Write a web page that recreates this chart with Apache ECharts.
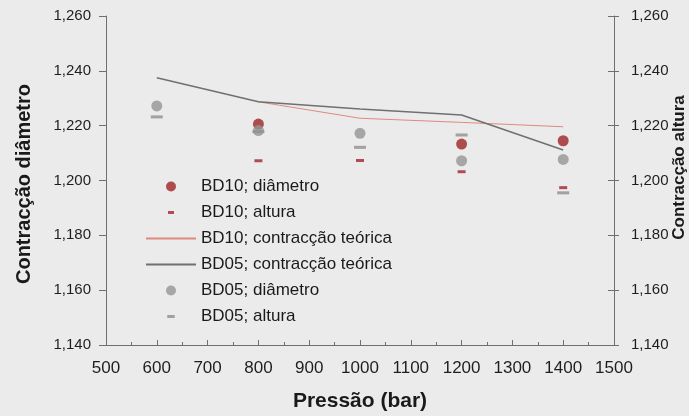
<!DOCTYPE html>
<html>
<head>
<meta charset="utf-8">
<script src="https://cdn.jsdelivr.net/npm/echarts@6/dist/echarts.min.js"></script>
<style>
  html, body { margin: 0; padding: 0; background: #ebebeb; }
  #chart { width: 689px; height: 416px; }
</style>
</head>
<body>
<div id="chart"></div>
<script>
// Pressão de compactação (bar) e contracção medida / teórica
const pressure = [600, 800, 1000, 1200, 1400];
const bd10Diametro = [null, 1.2206, null, 1.2133, 1.2145];
const bd10Altura   = [null, 1.2072, 1.2073, 1.2032, 1.1974];
const bd10Teorica  = [null, 1.2287, 1.2227, 1.2212, 1.2196];
const bd05Teorica  = [1.2375, 1.2287, 1.2261, 1.2239, 1.2111];
const bd05Diametro = [1.2272, 1.2182, 1.2172, 1.2072, 1.2077];
const bd05Altura   = [1.2232, 1.2178, 1.2121, 1.2166, 1.1955];

const xTicks = { min: 500, max: 1500, step: 100 };
const yTicks = { min: 1.14, max: 1.26, step: 0.02 };

const FONT = 'Liberation Sans, Arial, sans-serif';
const AXIS_COLOR = '#6f6f6f';

function pairs(values) {
  return pressure.map((p, i) => [p, values[i]]).filter(d => d[1] != null);
}
function fmt(v) {
  return v.toFixed(3).replace('.', ',');
}

// dash icons with transparent padding so the legend keeps them small
const redDashIcon = 'path://M0,0L0,0M2,3.5h6v3h-6zM10,10L10,10';
const grayDashIcon = 'path://M0,0L0,0M1.5,3.5h7.5v3h-7.5zM10.5,10L10.5,10';

const chart = echarts.init(document.getElementById('chart'));
chart.setOption({
  backgroundColor: '#ebebeb',
  animation: false,
  grid: { left: 106, right: 75, top: 16, bottom: 71, outerBoundsMode: 'none', containLabel: false },
  legend: {
    orient: 'vertical',
    left: 140,
    top: 173,
    itemWidth: 50,
    itemHeight: 10,
    itemGap: 9,
    textStyle: { fontFamily: FONT, fontSize: 17, color: '#1a1a1a' },
    data: [
      { name: 'BD10; diâmetro', icon: 'circle' },
      { name: 'BD10; altura', icon: redDashIcon },
      { name: 'BD10; contracção teórica' },
      { name: 'BD05; contracção teórica' },
      { name: 'BD05; diâmetro', icon: 'circle' },
      { name: 'BD05; altura', icon: grayDashIcon }
    ]
  },
  xAxis: {
    type: 'value',
    min: xTicks.min,
    max: xTicks.max,
    interval: xTicks.step,
    name: 'Pressão (bar)',
    nameLocation: 'middle',
    nameGap: 46,
    nameMoveOverlap: false,
    nameTextStyle: { fontFamily: FONT, fontSize: 21, fontWeight: 'bold', color: '#1a1a1a' },
    axisLine: { lineStyle: { color: AXIS_COLOR, width: 1 } },
    axisTick: { inside: true, length: 5, lineStyle: { color: AXIS_COLOR } },
    minorTick: { show: true, splitNumber: 2, length: 3, lineStyle: { color: AXIS_COLOR } },
    axisLabel: { fontFamily: FONT, fontSize: 17, color: '#1e1e1e', margin: 15, formatter: v => String(v) },
    splitLine: { show: false }
  },
  yAxis: [
    {
      type: 'value',
      position: 'left',
      min: yTicks.min,
      max: yTicks.max,
      interval: yTicks.step,
      name: 'Contracção diâmetro',
      nameLocation: 'middle',
      nameGap: 72,
      nameMoveOverlap: false,
      nameTextStyle: { fontFamily: FONT, fontSize: 20, fontWeight: 'bold', color: '#1a1a1a', padding: [0, 7, 0, 0] },
      axisLine: { show: true, lineStyle: { color: AXIS_COLOR, width: 1 } },
      axisTick: { show: true, inside: false, length: 7, lineStyle: { color: AXIS_COLOR } },
      axisLabel: { fontFamily: FONT, fontSize: 15, color: '#1e1e1e', margin: 15, formatter: fmt },
      splitLine: { show: false }
    },
    {
      type: 'value',
      position: 'right',
      min: yTicks.min,
      max: yTicks.max,
      interval: yTicks.step,
      name: 'Contracção altura',
      nameLocation: 'middle',
      nameGap: 57,
      nameMoveOverlap: false,
      nameTextStyle: { fontFamily: FONT, fontSize: 17, fontWeight: 'bold', color: '#1a1a1a', padding: [0, 0, 0, 26] },
      axisLine: { show: true, lineStyle: { color: AXIS_COLOR, width: 1 } },
      axisTick: { show: true, inside: true, length: 6, lineStyle: { color: AXIS_COLOR } },
      axisLabel: { fontFamily: FONT, fontSize: 15, color: '#1e1e1e', margin: 17, formatter: fmt },
      splitLine: { show: false }
    },
    {
      // outer half of the crossing ticks on the right axis
      type: 'value',
      position: 'right',
      min: yTicks.min,
      max: yTicks.max,
      interval: yTicks.step,
      axisLine: { show: false },
      axisTick: { show: true, inside: false, length: 5, lineStyle: { color: AXIS_COLOR } },
      axisLabel: { show: false },
      splitLine: { show: false }
    }
  ],
  series: [
    {
      name: 'BD10; diâmetro',
      type: 'scatter',
      symbol: 'circle',
      symbolSize: 11,
      itemStyle: { color: '#9e2426' },
      data: pairs(bd10Diametro)
    },
    {
      name: 'BD10; altura',
      type: 'scatter',
      symbol: 'rect',
      symbolSize: [8, 3],
      itemStyle: { color: '#a3262b' },
      data: pairs(bd10Altura)
    },
    {
      name: 'BD10; contracção teórica',
      type: 'line',
      symbol: 'none',
      lineStyle: { color: '#e08a7e', width: 1 },
      itemStyle: { color: 'rgba(0,0,0,0)' },
      data: pairs(bd10Teorica)
    },
    {
      name: 'BD05; contracção teórica',
      type: 'line',
      symbol: 'none',
      lineStyle: { color: '#707070', width: 1.5 },
      itemStyle: { color: 'rgba(0,0,0,0)' },
      data: pairs(bd05Teorica)
    },
    {
      name: 'BD05; diâmetro',
      type: 'scatter',
      symbol: 'circle',
      symbolSize: 11,
      itemStyle: { color: '#959595' },
      data: pairs(bd05Diametro)
    },
    {
      name: 'BD05; altura',
      type: 'scatter',
      symbol: 'rect',
      symbolSize: [12, 3],
      itemStyle: { color: '#8e8e8e' },
      data: pairs(bd05Altura)
    }
  ]
});
</script>
</body>
</html>
